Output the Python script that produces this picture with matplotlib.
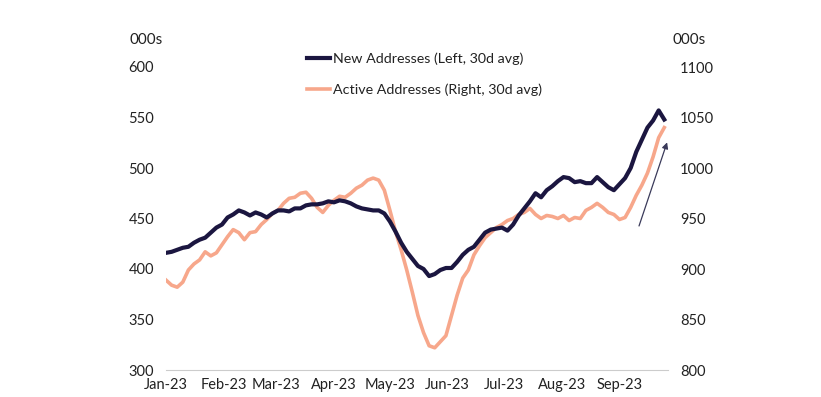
import matplotlib.pyplot as plt
import matplotlib.dates as mdates
import numpy as np
import pandas as pd

plt.rcParams['font.family'] = ['Lato', 'DejaVu Sans']

# dates every 3 days, Jan 1 to Sep 22 2023
dates = pd.date_range('2023-01-01', periods=89, freq='3D')

# new addresses, 30d avg (left axis, 000s)
new_addr = [416, 417, 419, 421, 422, 426, 429, 431, 436, 441,
            444, 451, 454, 458, 456, 453, 456, 454, 451, 455,
            458, 458, 457, 460, 460, 463, 464, 464, 465, 467,
            466, 468, 467, 465, 462, 460, 459, 458, 458, 455,
            447, 437, 426, 417, 410, 403, 400, 393, 395, 399,
            401, 401, 407, 414, 419, 422, 429, 436, 439, 440,
            441, 438, 444, 453, 460, 467, 475, 471, 478, 482,
            487, 491, 490, 486, 487, 485, 485, 491, 486, 481,
            478, 484, 490, 500, 516, 528, 540, 547, 557]
new_addr_end = 548

# active addresses, 30d avg (right axis, 000s)
active_addr = [889, 884, 882, 887, 899, 905, 909, 917, 913, 916,
               924, 932, 939, 936, 929, 936, 937, 944, 949, 955,
               958, 965, 970, 971, 975, 976, 970, 961, 956, 963,
               968, 972, 971, 975, 980, 983, 988, 990, 988, 978,
               958, 937, 919, 899, 877, 854, 837, 824, 822, 828,
               834, 854, 874, 891, 899, 914, 923, 931, 936, 941,
               944, 948, 950, 954, 956, 960, 954, 950, 953, 952,
               950, 953, 948, 951, 950, 958, 961, 965, 961, 956,
               954, 949, 951, 961, 973, 983, 995, 1011, 1030]
active_addr_end = 1040

x = list(dates) + [pd.Timestamp('2023-09-25')]
y_new = new_addr + [new_addr_end]
y_act = active_addr + [active_addr_end]

month_ticks = pd.date_range('2023-01-01', '2023-09-01', freq='MS')
left_ticks = [300, 350, 400, 450, 500, 550, 600]
right_ticks = [800, 850, 900, 950, 1000, 1050, 1100]

navy = '#1b1640'
salmon = '#f7a78b'

fig = plt.figure(figsize=(8.21, 3.97), dpi=100)
ax = fig.add_axes([166/821, 1 - 370/397, (668 - 166)/821, (370 - 67)/397])
ax2 = ax.twinx()

ax2.plot(x, y_act, color=salmon, lw=2.6, label='Active Addresses (Right, 30d avg)', zorder=2)
ax.plot(x, y_new, color=navy, lw=3.0, label='New Addresses (Left, 30d avg)', zorder=3)
ax.set_zorder(ax2.get_zorder() + 1)
ax.patch.set_visible(False)

ax.set_ylim(300, 600)
ax2.set_ylim(800, 1100)
ax.set_yticks(left_ticks)
ax2.set_yticks(right_ticks)
ax.set_xlim(pd.Timestamp('2023-01-01'), pd.Timestamp('2023-09-27'))
ax.set_xticks(month_ticks)
ax.xaxis.set_major_formatter(mdates.DateFormatter('%b-%y'))

for a in (ax, ax2):
    for s in a.spines.values():
        s.set_visible(False)
    a.tick_params(length=0, labelsize=10.5, colors='#222222')
ax.spines['bottom'].set_visible(True)
ax.spines['bottom'].set_color('#cccccc')
ax.tick_params(axis='y', pad=0)
ax2.tick_params(axis='y', pad=8.6)
ax.tick_params(axis='x', pad=6)
for lbl in ax.get_yticklabels():
    lbl.set_horizontalalignment('left')
    lbl.set_x(-0.075)

fig.text(129/821, 1 - 40/397, '000s', fontsize=11, color='#222222', va='center')
fig.text(672/821, 1 - 40/397, '000s', fontsize=11, color='#222222', va='center')

# arrow showing the recent rise
ax2.annotate('', xy=(pd.Timestamp('2023-09-27'), 1028), xytext=(pd.Timestamp('2023-09-11'), 940),
             arrowprops=dict(arrowstyle='-|>', color='#3a3a5a', lw=0.9, mutation_scale=9))

h1, l1 = ax.get_legend_handles_labels()
h2, l2 = ax2.get_legend_handles_labels()
fig.legend(h1 + h2, l1 + l2, loc='upper left', bbox_to_anchor=(294/821, 1 - 40/397),
           frameon=False, fontsize=10.3, handlelength=1.6, handletextpad=0.2,
           labelspacing=1.25, labelcolor='#222222')

fig.savefig('out.png', dpi=100)
